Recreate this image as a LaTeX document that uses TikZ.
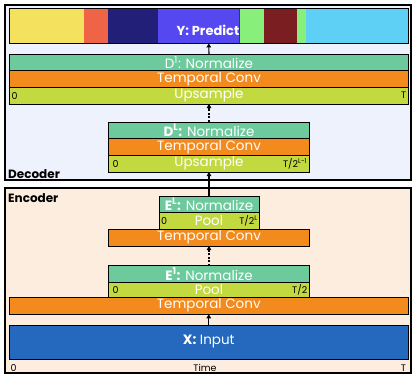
\documentclass[tikz,border=0pt]{standalone}
\usepackage{fontspec}
\setmainfont{Poppins}
\usetikzlibrary{arrows.meta}
\definecolor{decbg}{HTML}{EEF2FD}
\definecolor{encbg}{HTML}{FDEDDF}
\definecolor{normc}{HTML}{6CCA9C}
\definecolor{convc}{HTML}{F28A1E}
\definecolor{poolc}{HTML}{C2D940}
\definecolor{inc}{HTML}{2469BD}
\definecolor{pyel}{HTML}{F4E25E}
\definecolor{pred}{HTML}{EF6347}
\definecolor{pnav}{HTML}{221F78}
\definecolor{pblu}{HTML}{5548F0}
\definecolor{pgrn}{HTML}{88F07A}
\definecolor{pdkr}{HTML}{7A1E22}
\definecolor{pcya}{HTML}{5ECFF5}
\begin{document}
\begin{tikzpicture}[x=1pt,y=-1pt,
  outerbox/.style={draw, line width=2.4pt},
  blk/.style={draw, line width=0.9pt, inner sep=0pt, outer sep=0pt, text=white,
    font=\fontsize{13.5}{14}\selectfont},
  lbl/.style={inner sep=0pt, text=black, font=\fontsize{9.5}{10}\selectfont},
  sec/.style={inner sep=0pt, text=black, font=\fontsize{12}{13}\selectfont\bfseries},
  arr/.style={line width=1.1pt, -{Triangle[length=4pt,width=4.5pt]}},
  darr/.style={arr, dash pattern=on 2pt off 1.5pt}]
\useasboundingbox (0,0) rectangle (416,378);
% outer boxes
\draw[outerbox, fill=decbg] (5,5) rectangle (411,180);
\draw[outerbox, fill=encbg] (5,188) rectangle (411,373);
% prediction bar segments
\fill[pyel] (9.5,8) rectangle (84,43);
\fill[pred] (84,8) rectangle (108,43);
\fill[pnav] (108,8) rectangle (158,43);
\fill[pblu] (158,8) rectangle (238.5,43);
\fill[pdkr] (238.5,8) rectangle (240,43);
\fill[pgrn] (240,8) rectangle (264,43);
\fill[pdkr] (264,8) rectangle (297,43);
\fill[pgrn] (297,8) rectangle (306,43);
\fill[pcya] (306,8) rectangle (408,43);
\node[draw, line width=0.9pt, inner sep=0pt, minimum width=398.5pt, minimum height=35pt] (pred) at (208.75,25.5) {};
\node[text=white, inner sep=0pt, font=\fontsize{13}{14}\selectfont\bfseries] (predt) at (208,30) {Y: Predict};
% decoder D1
\node[blk, fill=normc, minimum width=399pt, minimum height=16.67pt] (d1n) at (209,62.33) {D\textsuperscript{1}: Normalize};
\node[blk, fill=convc, minimum width=399pt, minimum height=16.67pt] (d1t) at (209,79) {Temporal Conv};
\node[blk, fill=poolc, minimum width=399pt, minimum height=16.67pt] (d1u) at (209,95.67) {Upsample};
\node[lbl, anchor=west] (d1a) at ([xshift=2pt]d1u.west) {0};
\node[lbl, anchor=east] (d1b) at ([xshift=-2pt]d1u.east) {T};
% decoder DL
\node[blk, fill=normc, minimum width=201pt, minimum height=16.67pt] (dln) at (209,130.33) {\textbf{D\textsuperscript{L}:} Normalize};
\node[blk, fill=convc, minimum width=201pt, minimum height=16.67pt] (dlt) at (209,147) {Temporal Conv};
\node[blk, fill=poolc, minimum width=201pt, minimum height=16.67pt] (dlu) at (209,163.67) {Upsample};
\node[lbl, anchor=west] (dla) at ([xshift=4pt]dlu.west) {0};
\node[lbl, anchor=east] (dlb) at ([xshift=-2pt]dlu.east) {T/2\textsuperscript{L-1}};
\node[sec, anchor=south west] (dec) at (8,178.5) {Decoder};
% encoder EL
\node[blk, fill=normc, minimum width=100pt, minimum height=16.5pt] (eln) at (209,204.25) {\textbf{E\textsuperscript{L}:} Normalize};
\node[blk, fill=poolc, minimum width=100pt, minimum height=16.5pt] (elp) at (209,220.75) {Pool};
\node[lbl, anchor=west] (ela) at ([xshift=2pt]elp.west) {0};
\node[lbl, anchor=east] (elb) at ([xshift=-1pt]elp.east) {T/2\textsuperscript{L}};
\node[blk, fill=convc, minimum width=201pt, minimum height=17pt] (tcu) at (209,237.5) {Temporal Conv};
% encoder E1
\node[blk, fill=normc, minimum width=201pt, minimum height=16.5pt] (e1n) at (209,274) {\textbf{E\textsuperscript{1}:} Normalize};
\node[blk, fill=poolc, minimum width=201pt, minimum height=15pt] (e1p) at (209,289.75) {Pool};
\node[lbl, anchor=west] (e1a) at ([xshift=4pt]e1p.west) {0};
\node[lbl, anchor=east] (e1b) at ([xshift=-2pt]e1p.east) {T/2};
\node[blk, fill=convc, minimum width=398.5pt, minimum height=17pt] (tcl) at (208.75,305.75) {Temporal Conv};
\node[blk, fill=inc, minimum width=398.5pt, minimum height=34pt] (inp) at (208.75,342) {\textbf{X:} Input};
\node[sec, anchor=north west] (enc) at (8,193) {Encoder};
% axis labels
\node[lbl] (t0) at (13.5,368) {0};
\node[lbl] (tt) at (205,368) {Time};
\node[lbl] (tT) at (403.5,368) {T};
% connectors
\draw[arr] (inp.north) -- (tcl.south);
\draw[darr] (e1n.north) -- (tcu.south);
\draw[arr] (eln.north) -- (dlu.south);
\draw[darr] (dln.north) -- (d1u.south);
\draw[arr] (d1n.north) -- (pred.south);
\end{tikzpicture}
\end{document}
